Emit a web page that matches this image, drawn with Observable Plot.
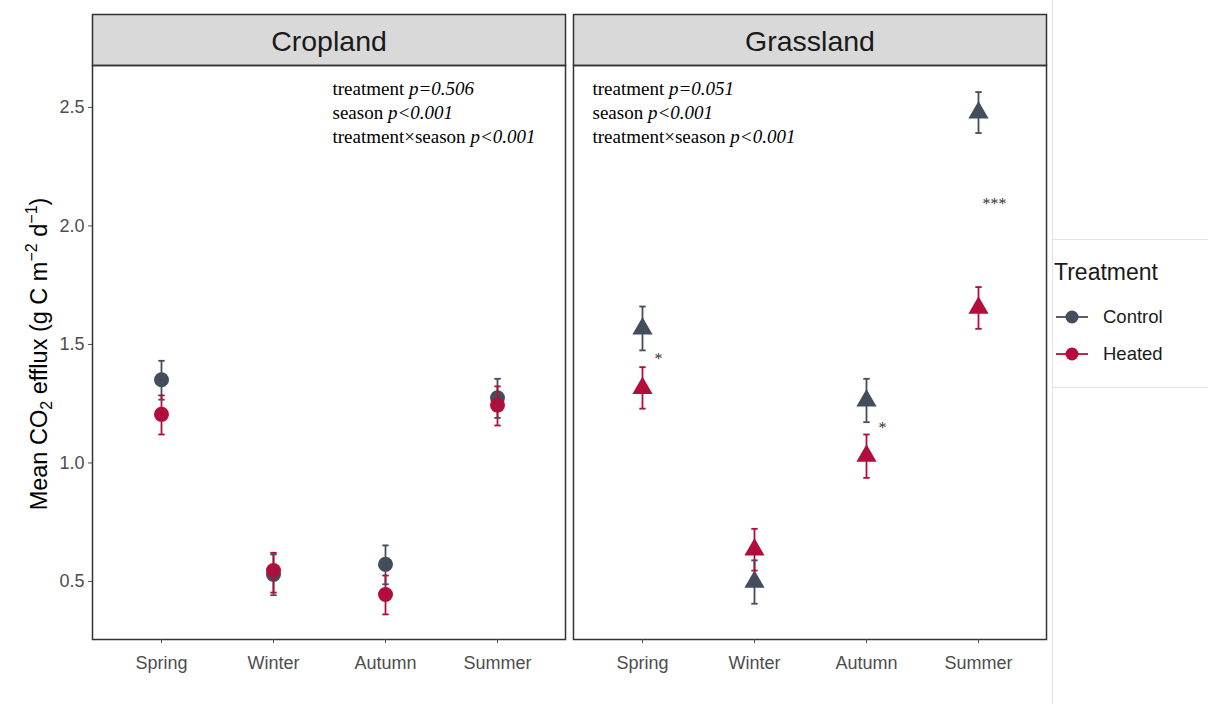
<!DOCTYPE html>
<html><head><meta charset="utf-8">
<script src="https://cdn.jsdelivr.net/npm/d3@7"></script>
<script src="https://cdn.jsdelivr.net/npm/@observablehq/plot@0.6"></script>
<style>
body{margin:0;background:#fff;font-family:"Liberation Sans",Arial,sans-serif;}
#wrap{position:relative;width:1208px;height:704px;overflow:hidden;background:#fff;}
#chart{position:absolute;left:0;top:0;}
#ytitle{position:absolute;left:39px;top:354px;transform:translate(-50%,-50%) rotate(-90deg);white-space:nowrap;font-size:23.5px;color:#000;}
#ytitle sub{font-size:16px;vertical-align:-5px;line-height:0;}
#ytitle sup{font-size:16px;vertical-align:10px;line-height:0;}
#legend{position:absolute;left:1054px;top:259px;color:#1a1a1a;}
#legend .title{font-size:23px;margin-bottom:12px;}
#legend .row{display:flex;align-items:center;height:37px;font-size:18.5px;}
#legend svg{margin-right:13px;}
.deco{position:absolute;background:#e4e4e4;}
</style></head><body>
<div id="wrap">
<div id="chart"></div>
<div class="deco" style="left:1052px;top:0;width:1px;height:704px"></div>
<div class="deco" style="left:1053px;top:239px;width:155px;height:1px"></div>
<div class="deco" style="left:1053px;top:387px;width:155px;height:1px"></div>
<div id="ytitle">Mean CO<sub>2</sub> efflux (g C m<sup>−2</sup> d<sup>−1</sup>)</div>
<div id="legend"></div>
</div>
<script>
// ---- data ----
const panels = ["Cropland", "Grassland"];
const seasons = ["Spring", "Winter", "Autumn", "Summer"];
const treatments = ["Control", "Heated"];
const treatmentColors = ["#444d5b", "#b20e3b"];

// Cropland
const cropControlMean = [1.351, 0.530, 0.572, 1.275];
const cropControlLo   = [1.267, 0.442, 0.488, 1.190];
const cropControlHi   = [1.431, 0.614, 0.652, 1.355];
const cropHeatedMean  = [1.205, 0.546, 0.445, 1.244];
const cropHeatedLo    = [1.120, 0.453, 0.361, 1.158];
const cropHeatedHi    = [1.285, 0.621, 0.525, 1.323];
// Grassland
const grassControlMean = [1.567, 0.498, 1.263, 2.478];
const grassControlLo   = [1.475, 0.406, 1.172, 2.392];
const grassControlHi   = [1.660, 0.589, 1.355, 2.565];
const grassHeatedMean  = [1.316, 0.634, 1.030, 1.654];
const grassHeatedLo    = [1.229, 0.546, 0.937, 1.566];
const grassHeatedHi    = [1.404, 0.722, 1.120, 1.742];

// significance stars (Grassland)
const starPanel  = ["Grassland", "Grassland", "Grassland"];
const starSeason = ["Spring", "Autumn", "Summer"];
const starY      = [1.441, 1.150, 2.095];
const starLabel  = ["*", "*", "***"];

// ANOVA annotations
const annotPanel = ["Cropland", "Grassland"];
const pTreatment = ["p=0.506", "p=0.051"];
const pSeason    = ["p<0.001", "p<0.001"];
const pInteract  = ["p<0.001", "p<0.001"];

const yTicks = [0.5, 1.0, 1.5, 2.0, 2.5];

// ---- build table ----
const series = [
  ["Cropland", "Control", cropControlMean, cropControlLo, cropControlHi],
  ["Cropland", "Heated", cropHeatedMean, cropHeatedLo, cropHeatedHi],
  ["Grassland", "Control", grassControlMean, grassControlLo, grassControlHi],
  ["Grassland", "Heated", grassHeatedMean, grassHeatedLo, grassHeatedHi]
];
const data = series.flatMap(([panel, treatment, m, lo, hi]) =>
  seasons.map((season, i) => ({panel, treatment, season, mean: m[i], lo: lo[i], hi: hi[i]})));
const stars = starLabel.map((label, i) => ({panel: starPanel[i], season: starSeason[i], y: starY[i], label}));
const annots = annotPanel.map((panel, i) => ({
  panel,
  text: `treatment|${pTreatment[i]}\nseason|${pSeason[i]}\ntreatment×season|${pInteract[i]}`
}));

const capSymbol = {draw(ctx, size) { const w = 3.2; ctx.moveTo(-w, 0); ctx.lineTo(w, 0); }};

const annotStyle = {fx: "panel", text: "text", frameAnchor: "top-left", textAnchor: "start",
  lineAnchor: "top", lineHeight: 1.28, dy: 12, fontFamily: "Liberation Serif, Times New Roman, serif",
  fontSize: 19, fill: "#000"};

const chart = Plot.plot({
  width: 1208, height: 704,
  marginLeft: 92, marginRight: 162, marginTop: 65, marginBottom: 65,
  style: {fontFamily: "Liberation Sans, Arial, sans-serif", background: "transparent", overflow: "visible"},
  fx: {domain: panels, paddingInner: 0.0166, paddingOuter: 0, round: false, label: null},
  x: {type: "point", domain: seasons, padding: 0.6, label: null},
  y: {domain: [0.255, 2.677], label: null},
  color: {domain: treatments, range: treatmentColors},
  symbol: {domain: panels, range: ["circle", "triangle"]},
  marks: [
    Plot.frame({fill: "#d9d9d9", stroke: "#333", strokeWidth: 1.5, insetTop: -51, insetBottom: 574}),
    Plot.frame({stroke: "#333", strokeWidth: 1.5}),
    Plot.axisFx({anchor: "top", tickSize: 0, tickPadding: 15, fontSize: 28.5, fill: "#1a1a1a", label: null}),
    Plot.axisY({ticks: yTicks, tickFormat: d3.format(".1f"), tickSize: 4, tickPadding: 4, fontSize: 18, color: "#4d4d4d", label: null}),
    Plot.axisX({tickSize: 4, tickPadding: 13, fontSize: 18, color: "#4d4d4d", label: null}),
    Plot.dot(data, {x: "season", y: "mean", fx: "panel", fill: "treatment", symbol: "panel", r: 7.5}),
    Plot.ruleX(data, {x: "season", y1: "lo", y2: "hi", fx: "panel", stroke: "treatment", strokeWidth: 1.8}),
    Plot.dot(data, {x: "season", y: "lo", fx: "panel", stroke: "treatment", symbol: capSymbol, strokeWidth: 1.8}),
    Plot.dot(data, {x: "season", y: "hi", fx: "panel", stroke: "treatment", symbol: capSymbol, strokeWidth: 1.8}),
    Plot.text(stars, {x: "season", y: "y", fx: "panel", text: "label", dx: 16, fontFamily: "Liberation Serif, Times New Roman, serif", fontSize: 16, fill: "#333"}),
    Plot.text(annots.filter(d => d.panel === "Cropland"), {...annotStyle, dx: 240}),
    Plot.text(annots.filter(d => d.panel === "Grassland"), {...annotStyle, dx: 19})
  ]
});

// mixed normal / italic annotation lines
chart.querySelectorAll("tspan").forEach(ts => {
  const t = ts.textContent;
  if (t.includes("|")) {
    const [a, b] = t.split("|");
    ts.textContent = a + " ";
    const it = document.createElementNS("http://www.w3.org/2000/svg", "tspan");
    it.setAttribute("font-style", "italic");
    it.textContent = b;
    ts.appendChild(it);
  }
});

document.getElementById("chart").appendChild(chart);

// legend
const legend = document.getElementById("legend");
legend.innerHTML = `<div class="title">Treatment</div>` + treatments.map((t, i) =>
  `<div class="row"><svg width="36" height="16"><line x1="2" x2="34" y1="8" y2="8" stroke="${treatmentColors[i]}" stroke-width="1.8"/><circle cx="18" cy="8" r="6.5" fill="${treatmentColors[i]}"/></svg>${t}</div>`).join("");
</script>
</body></html>
